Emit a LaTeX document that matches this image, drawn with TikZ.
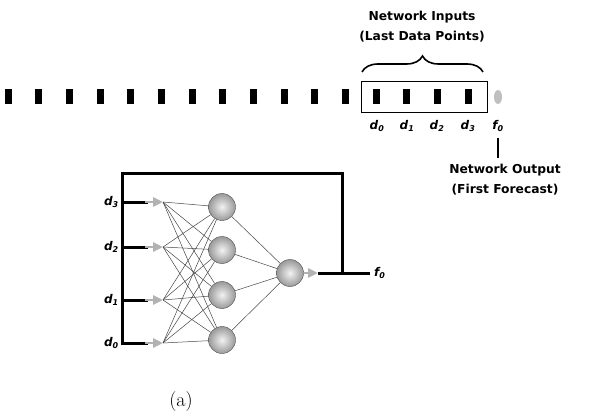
\documentclass[tikz,border=0pt]{standalone}
\usepackage{fontspec}
\newfontfamily\labfont{DejaVu Sans}
\usetikzlibrary{arrows.meta,decorations.pathreplacing,shapes.geometric}
\begin{document}
\begin{tikzpicture}[x=1pt,y=-1pt,
  bar/.style={fill=black,minimum width=7pt,minimum height=15pt,inner sep=0pt,draw=none},
  neuron/.style={circle,minimum size=27pt,inner sep=0pt,draw=gray!60!black,inner color=gray!10,outer color=gray!80},
  lbl/.style={font=\labfont\bfseries\fontsize{12.3}{20}\selectfont,align=center,inner sep=0pt},
  dlab/.style={font=\labfont\bfseries\itshape\fontsize{12}{13}\selectfont,inner sep=1pt},
  bus/.style={line width=3pt},
  wire/.style={gray!55!black,line width=0.5pt},
  tipin/.style={gray!60,line width=2.5pt,-{Triangle[length=10pt,width=9pt]}},
]
\useasboundingbox (0,0) rectangle (600,417);

% time series row
\foreach \i in {0,...,15} \node[bar] (b\i) at ({8+\i*30.67},96.5) {};
\node[draw,line width=0.8pt,minimum width=126pt,minimum height=31pt,inner sep=0pt] (win) at (424,96.5) {};
\node[ellipse,fill=gray!50,minimum width=8pt,minimum height=14pt,inner sep=0pt] (fpt) at (498,97) {};
\foreach \n/\x in {0/377,1/407,2/437,3/468}
  \node[dlab] (t\n) at (\x,126) {d\textsubscript{\n}};
\node[dlab] (tf) at (498,126) {f\textsubscript{0}};

% brace and labels
\coordinate (brl) at (362,72);
\coordinate (brr) at (483,72);
\draw[decorate,decoration={brace,amplitude=16pt,aspect=0.5},line width=1.6pt] (brl) -- (brr);
\node[lbl] (ni) at (422,27) {Network Inputs\\(Last Data Points)};
\coordinate (ot1) at (498,138);
\coordinate (ot2) at (498,158);
\draw[line width=1.6pt] (ot1) -- (ot2);
\node[lbl] (no) at (505,180) {Network Output\\(First Forecast)};

% network
\foreach \n/\y in {0/343,1/300,2/247,3/202}{
  \coordinate (in\n) at (163,\y);
  \coordinate (bus\n) at (122,\y);
  \coordinate (ar\n) at (148,\y);
  \node[dlab,anchor=east] (dl\n) at (120,\y) {d\textsubscript{\n}};
}
\foreach \j/\y in {1/207,2/250,3/295,4/340}
  \node[neuron] (h\j) at (222,\y) {};
\node[neuron] (o) at (290,273) {};

\foreach \i in {0,...,3}
  \foreach \j in {1,...,4}
    \draw[wire] (in\i) -- (h\j);
\foreach \j in {1,...,4}
  \draw[wire] (h\j) -- (o);

\coordinate (ctl) at (122,174);
\coordinate (ctr) at (342,174);
\coordinate (cj) at (342,273);
\coordinate (oa) at (318,273);
\coordinate (oe) at (370,273);
\draw[bus,line cap=rect] (bus0) -- (ctl) -- (ctr) -- (cj);
\foreach \n in {0,...,3}{
  \draw[bus] (bus\n) -- (ar\n);
  \draw[tipin] ([xshift=-3pt]ar\n) -- (in\n);
}
\draw[gray!60,line width=2.5pt,-{Triangle[length=10pt,width=9pt]}] (o.east) -- (oa);
\draw[bus] (oa) -- (oe);
\node[dlab,anchor=west] (fo) at (373,273) {f\textsubscript{0}};

\node[font=\fontsize{20}{22}\selectfont] (cap) at (181,402) {(a)};
\end{tikzpicture}
\end{document}
